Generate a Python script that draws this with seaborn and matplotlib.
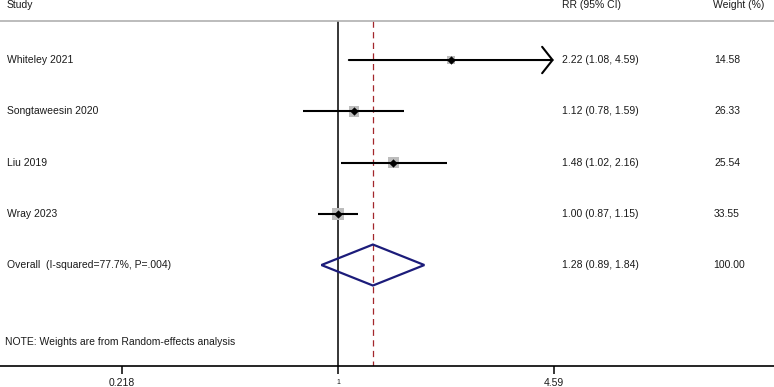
import numpy as np
import pandas as pd
import matplotlib
matplotlib.use("Agg")
import matplotlib.pyplot as plt
import seaborn as sns

studies = ["Whiteley 2021", "Songtaweesin 2020", "Liu 2019", "Wray 2023"]
rr = [2.22, 1.12, 1.48, 1.00]
lower = [1.08, 0.78, 1.02, 0.87]
upper = [4.59, 1.59, 2.16, 1.15]
weights = [14.58, 26.33, 25.54, 33.55]
overall_label = "Overall  (I-squared=77.7%, P=.004)"
overall_rr, overall_lo, overall_hi = 1.28, 0.89, 1.84
tick_values = [0.218, 1, 4.59]
tick_labels = ["0.218", "1", "4.59"]
note = "NOTE: Weights are from Random-effects analysis"

sns.set_style("white")
plt.rcParams["font.family"] = ["Liberation Sans", "DejaVu Sans"]

fig = plt.figure(figsize=(7.74, 3.87), dpi=100)
ax = fig.add_axes([0, 21 / 387, 1, 366 / 387])
ax.set_xscale("log")
ax.set_xlim(0.0921, 21.7)
ax.set_ylim(6.97, -0.171)

n = len(studies)
rows = np.arange(1, n + 1)
df = pd.DataFrame({"study": studies, "rr": rr, "lo": lower, "hi": upper,
                   "w": weights, "row": rows})

# reference lines
line_top = 0.233
ax.vlines(1, line_top, 6.97, color="black", lw=1.1, zorder=1)
ax.vlines(overall_rr, line_top, 6.97, color="#a3262b", lw=0.9,
          linestyles=(0, (5, 3.5)), zorder=1)
ax.axhline(line_top, color="#b0b0b0", lw=1.2)

# weight squares
sns.scatterplot(data=df, x="rr", y="row", size="w", sizes=(0, 76),
                size_norm=(0, max(weights)), marker="s", color="#bdbdbd",
                edgecolor="none", legend=False, ax=ax, zorder=2)

# CIs
for i, r in df.iterrows():
    if r["hi"] >= 4.59:
        ax.annotate("", xy=(r["hi"], r["row"]), xytext=(r["lo"], r["row"]),
                    arrowprops=dict(arrowstyle="->,head_length=0.75,head_width=0.95",
                                    lw=1.5, color="black", shrinkA=0, shrinkB=0),
                    zorder=3)
    else:
        ax.hlines(r["row"], r["lo"], r["hi"], color="black", lw=1.5, zorder=3)

# point estimates
sns.scatterplot(data=df, x="rr", y="row", marker="D", s=15, color="black",
                edgecolor="black", legend=False, ax=ax, zorder=4)

# overall diamond
oy = n + 1
ax.fill([overall_lo, overall_rr, overall_hi, overall_rr],
        [oy, oy - 0.4, oy, oy + 0.4], facecolor="none",
        edgecolor="#1c1c7a", lw=1.6, zorder=4)

# text columns
tr = ax.get_yaxis_transform()
fs = 7.5
tc = "#1a1a1a"
ax.text(7 / 774, -0.073, "Study", transform=tr, fontsize=fs, va="center", color=tc)
ax.text(562 / 774, -0.073, "RR (95% CI)", transform=tr, fontsize=fs, va="center", color=tc)
ax.text(713 / 774, -0.073, "Weight (%)", transform=tr, fontsize=fs, va="center", color=tc)
for i in range(n):
    ax.text(7 / 774, rows[i], studies[i], transform=tr, fontsize=fs, va="center", color=tc)
    ax.text(562 / 774, rows[i], f"{rr[i]:.2f} ({lower[i]:.2f}, {upper[i]:.2f})",
            transform=tr, fontsize=fs, va="center", color=tc)
    ax.text(714 / 774, rows[i], f"{weights[i]:.2f}", transform=tr, fontsize=fs,
            va="center", color=tc)
ax.text(7 / 774, oy, overall_label, transform=tr, fontsize=fs, va="center", color=tc)
ax.text(562 / 774, oy, f"{overall_rr:.2f} ({overall_lo:.2f}, {overall_hi:.2f})",
        transform=tr, fontsize=fs, va="center", color=tc)
ax.text(713 / 774, oy, f"{sum(weights):.2f}", transform=tr, fontsize=fs,
        va="center", color=tc)
ax.text(5 / 774, 6.5, note, transform=tr, fontsize=fs, va="center", color=tc)

# axes styling
for s in ["top", "left", "right"]:
    ax.spines[s].set_visible(False)
ax.spines["bottom"].set_color("black")
ax.spines["bottom"].set_linewidth(1.2)
ax.set_yticks([])
ax.set_xticks(tick_values)
ax.set_xticklabels(tick_labels)
ax.xaxis.set_minor_locator(matplotlib.ticker.NullLocator())
ax.tick_params(axis="x", direction="out", length=6, width=1.1, pad=3,
               labelsize=7.5, colors="black", labelcolor=tc, bottom=True)
for lab in ax.get_xticklabels():
    if lab.get_text() == "1":
        lab.set_fontsize(5)
ax.set_xlabel("")
ax.set_ylabel("")

fig.savefig("out.png", dpi=100)
